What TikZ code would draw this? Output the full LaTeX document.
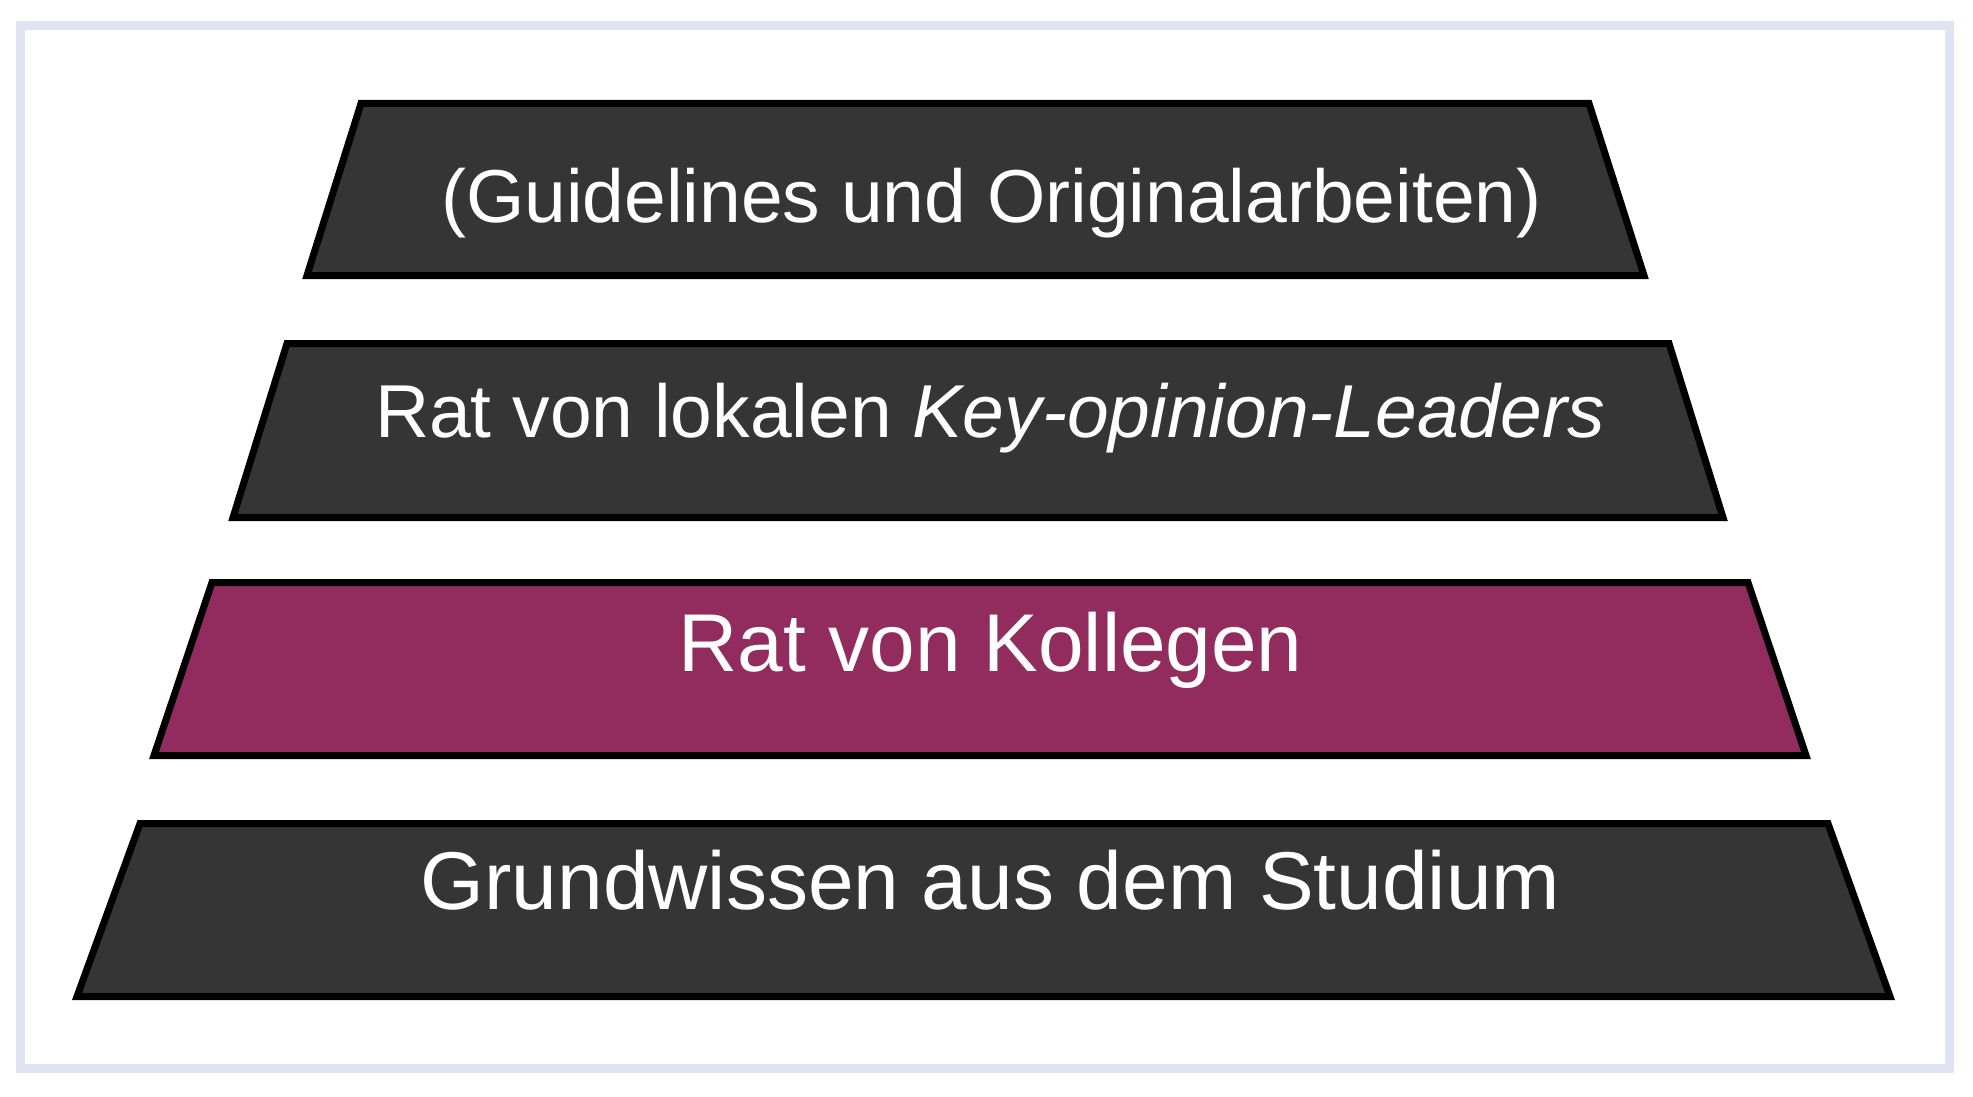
\documentclass[tikz,border=0pt]{standalone}
\usepackage{fontspec}
\setmainfont{Liberation Sans}
\definecolor{framecol}{RGB}{224,227,242}
\definecolor{darkfill}{RGB}{53,53,53}
\definecolor{purplefill}{RGB}{146,44,95}
\begin{document}
\begin{tikzpicture}[x=1pt,y=-1pt,
  layer/.style={draw=black,line width=7pt,line join=miter,fill=darkfill},
  layerhi/.style={layer,fill=purplefill},
  lbl/.style={anchor=base,inner sep=0pt,text=white},
  lblsmall/.style={lbl,font=\fontsize{75}{90}\selectfont},
  lblbig/.style={lbl,font=\fontsize{82}{98}\selectfont}]
\useasboundingbox (0,0) rectangle (1973,1097);
\draw[framecol,line width=9pt] (20,25.5) rectangle (1949.5,1068.5);
% layers
\draw[layer]   (361,103.5) -- (1589,103.5) -- (1644,275.5) -- (307,275.5) -- cycle;
\draw[layer]   (287,343.5) -- (1669,343.5) -- (1723,517.5) -- (233,517.5) -- cycle;
\draw[layerhi] (212,582.5) -- (1748,582.5) -- (1806,755.5) -- (154,755.5) -- cycle;
\draw[layer]   (140,823.5) -- (1828,823.5) -- (1890,996.5) -- (77,996.5) -- cycle;
% labels
\node[lblsmall] (t1) at (991.5,222) {(Guidelines und Originalarbeiten)};
\node[lblsmall] (t2) at (990,437) {Rat von lokalen \textit{Key-opinion-Leaders}};
\node[lblbig]   (t3) at (990.5,671) {Rat von Kollegen};
\node[lblbig]   (t4) at (990.5,909) {Grundwissen aus dem Studium};
\end{tikzpicture}
\end{document}
